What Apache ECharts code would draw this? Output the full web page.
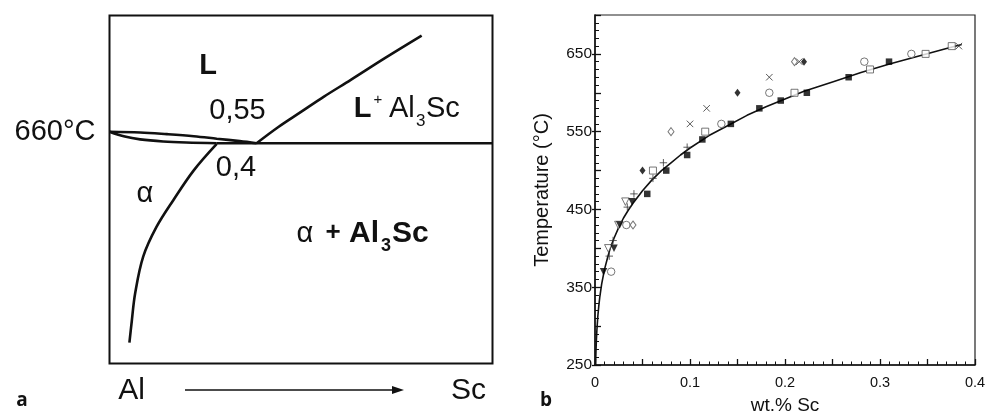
<!DOCTYPE html>
<html>
<head>
<meta charset="utf-8">
<script src="https://cdn.jsdelivr.net/npm/echarts@6/dist/echarts.min.js"></script>
<style>
html,body{margin:0;padding:0;background:#fff;}
#chart{width:993px;height:412px;}
</style>
</head>
<body>
<div id="chart"></div>
<script>
// ---------- Panel a: schematic Al-Sc phase diagram (arbitrary units 0-100) ----------
const upperLens = [[0,66.6],[8,66.4],[15,65.9],[22,65.3],[28,64.6],[34,63.9],[38.4,63.3]];
const lowerLens = [[0,66.6],[4,65.2],[8,64.4],[14,63.8],[20,63.5],[28,63.3]];
const eutecticLine = [[28,63.3],[100,63.3]];
const liquidusAl3Sc = [[38.4,63.3],[44,67.9],[50,72.3],[56,76.7],[63,81.5],[72,87.8],[81.5,94.2]];
const solvusAlpha = [[28,63.1],[22,55.5],[16.7,47.0],[12.3,39.3],[8.8,30.7],[6.7,20.2],[5.8,12.0],[5.2,6.0]];

// ---------- Panel b: Sc solubility in Al ----------
const xTickLabels = ['0','0.1','0.2','0.3','0.4'];
const yTickLabels = ['250','350','450','550','650'];
const solubilityCurve = [[0.0006,249],[0.0008,259],[0.001,267],[0.0015,283],[0.002,295],[0.003,313],[0.004,326],[0.005,337],[0.007,354],[0.01,373],[0.013,387],[0.016,400],[0.02,413],[0.025,427],[0.03,439],[0.035,449],[0.04,458],[0.05,474],[0.06,488],[0.07,500],[0.08,510],[0.09,520],[0.1,529],[0.12,545],[0.14,558],[0.16,571],[0.18,582],[0.2,592],[0.22,602],[0.25,614],[0.28,626],[0.31,637],[0.34,647],[0.37,657],[0.386,662]];
const filledSquares = [[0.055,470],[0.075,500],[0.097,520],[0.113,540],[0.143,560],[0.173,580],[0.1955,590],[0.223,600],[0.267,620],[0.3095,640]];
const openSquares = [[0.061,500],[0.116,550],[0.210,600],[0.2895,630],[0.348,650],[0.3755,660]];
const openCircles = [[0.017,370],[0.033,430],[0.133,560],[0.1835,600],[0.2835,640],[0.333,650]];
const filledDiamonds = [[0.050,500],[0.150,600],[0.220,640]];
const openDiamonds = [[0.040,430],[0.080,550],[0.210,640]];
const crosses = [[0.100,560],[0.1175,580],[0.1835,620],[0.215,640],[0.383,660]];
const plusses = [[0.015,390],[0.019,410],[0.034,453],[0.041,470],[0.061,490],[0.072,510],[0.097,530]];
const openTriangles = [[0.014,400],[0.0246,430],[0.032,460]];
const filledTriangles = [[0.009,370],[0.020,400],[0.026,430],[0.039,460]];

const FONT = '"Liberation Sans", Arial, Helvetica, sans-serif';
const chart = echarts.init(document.getElementById('chart'), null, {renderer:'canvas'});

function schem(data){
  return {type:'line', xAxisIndex:0, yAxisIndex:0, data:data, symbol:'none', smooth:0.35,
    lineStyle:{color:'#111', width:2.6}, silent:true, animation:false, z:3};
}
function mark(data, symbol, size, filled, extra){
  return Object.assign({type:'scatter', xAxisIndex:1, yAxisIndex:1, data:data, symbol:symbol, symbolSize:size,
    itemStyle: filled ? {color:'#000'} : {color:'#fff', borderColor:'#555', borderWidth:1},
    silent:true, animation:false, z:4}, extra||{});
}
function txt(x,y,text,size,bold,align){
  return {type:'text', x:x, y:y, z:10, style:{text:text, fontSize:size, fontWeight:bold?'bold':'normal',
    fontFamily:FONT, fill:'#111', align:align||'center', verticalAlign:'middle',
    textAlign:align||'center', textVerticalAlign:'middle'}};
}

const graphics = [
  txt(55,132,'660°C',29,false),
  txt(208,66,'L',29,true),
  txt(237.5,111,'0,55',29,false),
  txt(236,168,'0,4',29,false),
  txt(362.5,109,'L',29,true),
  txt(378,100,'+',15,false),
  txt(389,109,'Al',29,false,'left'),
  txt(416,121,'3',17,false,'left'),
  txt(426,109,'Sc',29,false,'left'),
  txt(145,194,'α',29,false),
  txt(305,234,'α',29,false),
  txt(333,233,'+',26,true),
  txt(349,234,'Al',30,true,'left'),
  txt(381,246,'3',18,true,'left'),
  txt(392,234,'Sc',30,true,'left'),
  txt(131.5,391,'Al',30,false),
  txt(468.5,391,'Sc',30,false),
  {type:'line', z:10, shape:{x1:185,y1:390,x2:396,y2:390}, style:{stroke:'#111', lineWidth:1.5}},
  {type:'polygon', z:10, shape:{points:[[392,386],[404,390],[392,394]]}, style:{fill:'#111'}},
  {type:'text', x:22, y:401, z:10, style:{text:'a', fontSize:19, fontWeight:'bold', fontFamily:'"Open Sans", "DejaVu Sans", sans-serif', fill:'#111', align:'center', verticalAlign:'middle', textAlign:'center', textVerticalAlign:'middle'}},
  {type:'text', x:546, y:401, z:10, style:{text:'b', fontSize:19, fontWeight:'bold', fontFamily:'"Open Sans", "DejaVu Sans", sans-serif', fill:'#111', align:'center', verticalAlign:'middle', textAlign:'center', textVerticalAlign:'middle'}}
];

const option = {
  backgroundColor:'#fff',
  animation:false,
  textStyle:{fontFamily:FONT},
  grid:[
    {left:109.5, top:15.5, width:383, height:348, show:true, borderColor:'#111', borderWidth:2, backgroundColor:'transparent', containLabel:false, outerBoundsMode:'none'},
    {left:595, top:15, width:380, height:350, show:true, borderColor:'#222', borderWidth:1.2, backgroundColor:'transparent', containLabel:false, outerBoundsMode:'none'}
  ],
  xAxis:[
    {gridIndex:0, type:'value', min:0, max:100, show:false},
    {gridIndex:1, type:'value', min:0, max:0.4, interval:0.05,
      name:'wt.% Sc', nameLocation:'middle', nameGap:31, nameTextStyle:{fontSize:19, color:'#111', fontFamily:FONT},
      axisLine:{lineStyle:{color:'#111', width:1.5}},
      axisTick:{inside:true, length:6, lineStyle:{color:'#111', width:1.3}},
      minorTick:{show:true, splitNumber:5, length:3.5, lineStyle:{color:'#111', width:1}},
      splitLine:{show:false},
      axisLabel:{fontSize:14.5, color:'#111', margin:10, showMaxLabel:true,
        formatter:function(v){ const k=Math.round(v*20); return k%2===0 ? xTickLabels[k/2] : ''; }}
    }
  ],
  yAxis:[
    {gridIndex:0, type:'value', min:0, max:100, show:false},
    {gridIndex:1, type:'value', min:250, max:700, interval:50,
      name:'Temperature (°C)', nameLocation:'middle', nameGap:43, nameRotate:90,
      nameTextStyle:{fontSize:20, color:'#111', fontFamily:FONT},
      axisLine:{lineStyle:{color:'#111', width:1.5}},
      axisTick:{inside:true, length:6, lineStyle:{color:'#111', width:1.3}},
      minorTick:{show:true, splitNumber:5, length:4, lineStyle:{color:'#111', width:1}},
      splitLine:{show:false},
      axisLabel:{show:false}
    },
    {gridIndex:1, type:'value', min:250, max:700, interval:100, position:'left',
      axisLine:{show:false},
      axisTick:{show:true, inside:false, length:3, lineStyle:{color:'#111', width:1.3}},
      splitLine:{show:false},
      axisLabel:{fontSize:15.5, color:'#111', margin:3, showMaxLabel:false,
        formatter:function(v){ const i=Math.round((v-250)/100); return yTickLabels[i]||''; }}
    }
  ],
  series:[
    schem(upperLens), schem(lowerLens), schem(eutecticLine), schem(liquidusAl3Sc), schem(solvusAlpha),
    {type:'line', xAxisIndex:1, yAxisIndex:1, data:solubilityCurve, symbol:'none', smooth:false,
      lineStyle:{color:'#111', width:1.6}, silent:true, animation:false, z:3},
    mark(filledSquares,'rect',6.5,true),
    mark(openSquares,'rect',7,false),
    mark(openCircles,'circle',7.5,false),
    mark(filledDiamonds,'diamond',[6,8],true),
    mark(openDiamonds,'diamond',[6,8],false),
    mark(crosses,'path://M0,0L10,10M10,0L0,10',6.5,false,{itemStyle:{color:'none', borderColor:'#333', borderWidth:1}}),
    mark(plusses,'path://M5,0L5,10M0,5L10,5',7.5,false,{itemStyle:{color:'none', borderColor:'#333', borderWidth:1}}),
    mark(openTriangles,'triangle',7.5,false,{symbolRotate:180}),
    mark(filledTriangles,'triangle',7.5,true,{symbolRotate:180})
  ],
  graphic:graphics
};
chart.setOption(option);
</script>
</body>
</html>
